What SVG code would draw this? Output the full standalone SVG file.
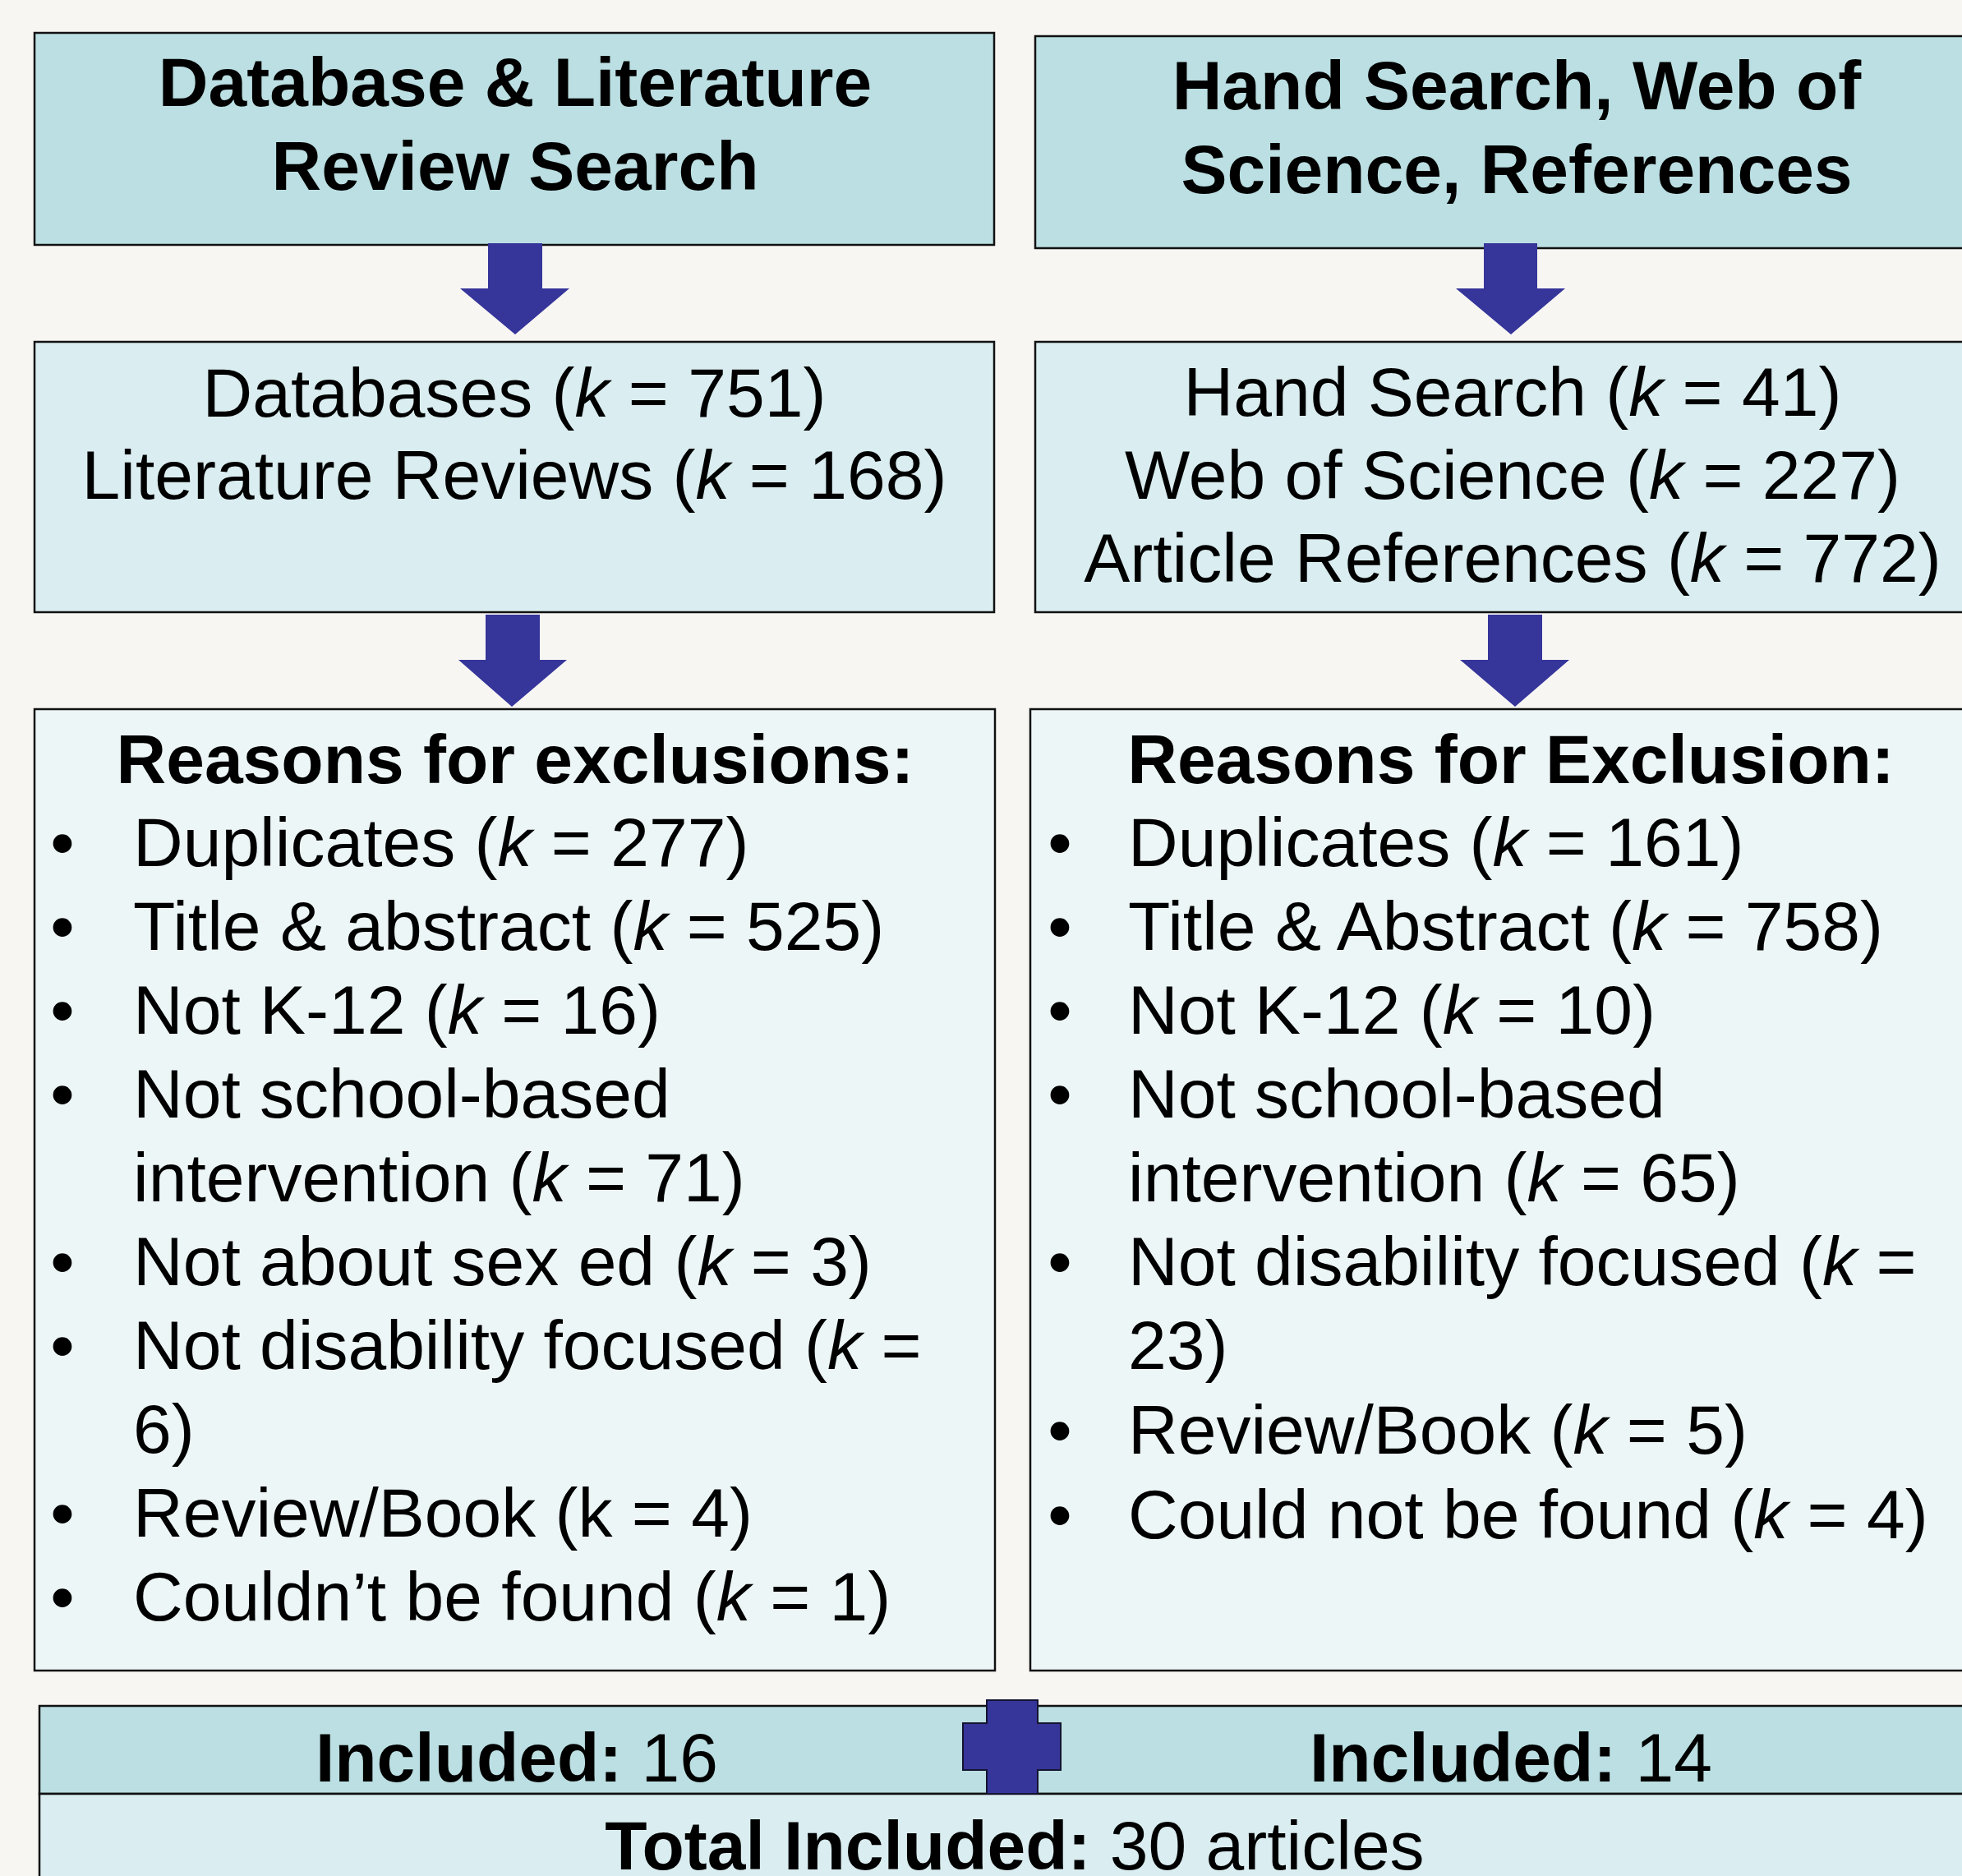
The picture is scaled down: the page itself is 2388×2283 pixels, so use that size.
<svg xmlns="http://www.w3.org/2000/svg" width="2388" height="2283" viewBox="0 0 2388 2283">
<style>
.box{stroke:#111;stroke-width:2.5}
.t1{fill:#bbdfe2}
.t2{fill:#daedf0}
.t3{fill:#edf6f7}
text{font-family:"Liberation Sans",Arial,Helvetica,sans-serif;font-size:84px;fill:#000}
.b{font-weight:bold}
.c{text-anchor:middle}
.i{font-style:italic}
.arrow{fill:#36359a}
</style>
<rect x="0" y="0" width="2388" height="2283" fill="#f7f6f3"/>

<g id="node-db-search">
<rect class="box t1" x="42" y="40" width="1168" height="258"/>
<text class="b c" x="627" y="129">Database &amp; Literature</text>
<text class="b c" x="627" y="231">Review Search</text>
</g>

<g id="node-hand-search">
<rect class="box t1" x="1260" y="44" width="1180" height="258"/>
<text class="b c" x="1846" y="133">Hand Search, Web of</text>
<text class="b c" x="1846" y="235">Science, References</text>
</g>

<g id="node-db-counts">
<rect class="box t2" x="42" y="416" width="1168" height="329"/>
<text class="c" x="626" y="507">Databases (<tspan class="i">k</tspan> = 751)</text>
<text class="c" x="626" y="607">Literature Reviews (<tspan class="i">k</tspan> = 168)</text>
</g>

<g id="node-hand-counts">
<rect class="box t2" x="1260" y="416" width="1180" height="329"/>
<text class="c" x="1841" y="506">Hand Search (<tspan class="i">k</tspan> = 41)</text>
<text class="c" x="1841" y="607">Web of Science (<tspan class="i">k</tspan> = 227)</text>
<text class="c" x="1841" y="708">Article References (<tspan class="i">k</tspan> = 772)</text>
</g>

<g id="node-left-exclusions">
<rect class="box t3" x="42" y="863" width="1169" height="1170"/>
<text class="b c" x="627" y="953">Reasons for exclusions:</text>
<text class="c" x="76" y="1054">•</text>
<text x="162" y="1054">Duplicates (<tspan class="i">k</tspan> = 277)</text>
<text class="c" x="76" y="1156">•</text>
<text x="162" y="1156">Title &amp; abstract (<tspan class="i">k</tspan> = 525)</text>
<text class="c" x="76" y="1258">•</text>
<text x="162" y="1258">Not K-12 (<tspan class="i">k</tspan> = 16)</text>
<text class="c" x="76" y="1360">•</text>
<text x="162" y="1360">Not school-based</text>
<text x="162" y="1462">intervention (<tspan class="i">k</tspan> = 71)</text>
<text class="c" x="76" y="1564">•</text>
<text x="162" y="1564">Not about sex ed (<tspan class="i">k</tspan> = 3)</text>
<text class="c" x="76" y="1666">•</text>
<text x="162" y="1666">Not disability focused (<tspan class="i">k</tspan> =</text>
<text x="162" y="1768">6)</text>
<text class="c" x="76" y="1870">•</text>
<text x="162" y="1870">Review/Book (k = 4)</text>
<text class="c" x="76" y="1972">•</text>
<text x="162" y="1972">Couldn’t be found (<tspan class="i">k</tspan> = 1)</text>
</g>

<g id="node-right-exclusions">
<rect class="box t3" x="1254" y="863" width="1186" height="1170"/>
<text class="b c" x="1839" y="953">Reasons for Exclusion:</text>
<text class="c" x="1290" y="1054">•</text>
<text x="1373" y="1054">Duplicates (<tspan class="i">k</tspan> = 161)</text>
<text class="c" x="1290" y="1156">•</text>
<text x="1373" y="1156">Title &amp; Abstract (<tspan class="i">k</tspan> = 758)</text>
<text class="c" x="1290" y="1258">•</text>
<text x="1373" y="1258">Not K-12 (<tspan class="i">k</tspan> = 10)</text>
<text class="c" x="1290" y="1360">•</text>
<text x="1373" y="1360">Not school-based</text>
<text x="1373" y="1462">intervention (<tspan class="i">k</tspan> = 65)</text>
<text class="c" x="1290" y="1564">•</text>
<text x="1373" y="1564">Not disability focused (<tspan class="i">k</tspan> =</text>
<text x="1373" y="1666">23)</text>
<text class="c" x="1290" y="1769">•</text>
<text x="1373" y="1769">Review/Book (<tspan class="i">k</tspan> = 5)</text>
<text class="c" x="1290" y="1872">•</text>
<text x="1373" y="1872">Could not be found (<tspan class="i">k</tspan> = 4)</text>
</g>

<g id="node-included">
<rect class="box t1" x="48" y="2076" width="2400" height="107"/>
<rect class="box t2" x="48" y="2183" width="2400" height="120"/>
<text class="c" x="629" y="2168"><tspan class="b">Included:</tspan> 16</text>
<text class="c" x="1839" y="2168"><tspan class="b">Included:</tspan> 14</text>
<text class="c" x="1235" y="2275"><tspan class="b">Total Included:</tspan> 30 articles</text>
</g>

<g id="connectors">
<polygon class="arrow" points="594,296 660,296 660,351 693,351 627,407 560,351 594,351"/>
<polygon class="arrow" points="1806,296 1871,296 1871,351 1905,351 1839,407 1772,351 1806,351"/>
<polygon class="arrow" points="591,748 657,748 657,803 690,803 623,860 558,803 591,803"/>
<polygon class="arrow" points="1811,748 1877,748 1877,803 1910,803 1844,860 1777,803 1811,803"/>
<path class="arrow" d="M1201,2069 H1263 V2097 H1291 V2154 H1263 V2183 H1201 V2154 H1172 V2097 H1201 Z" stroke="#141430" stroke-width="2"/>
</g>
</svg>
